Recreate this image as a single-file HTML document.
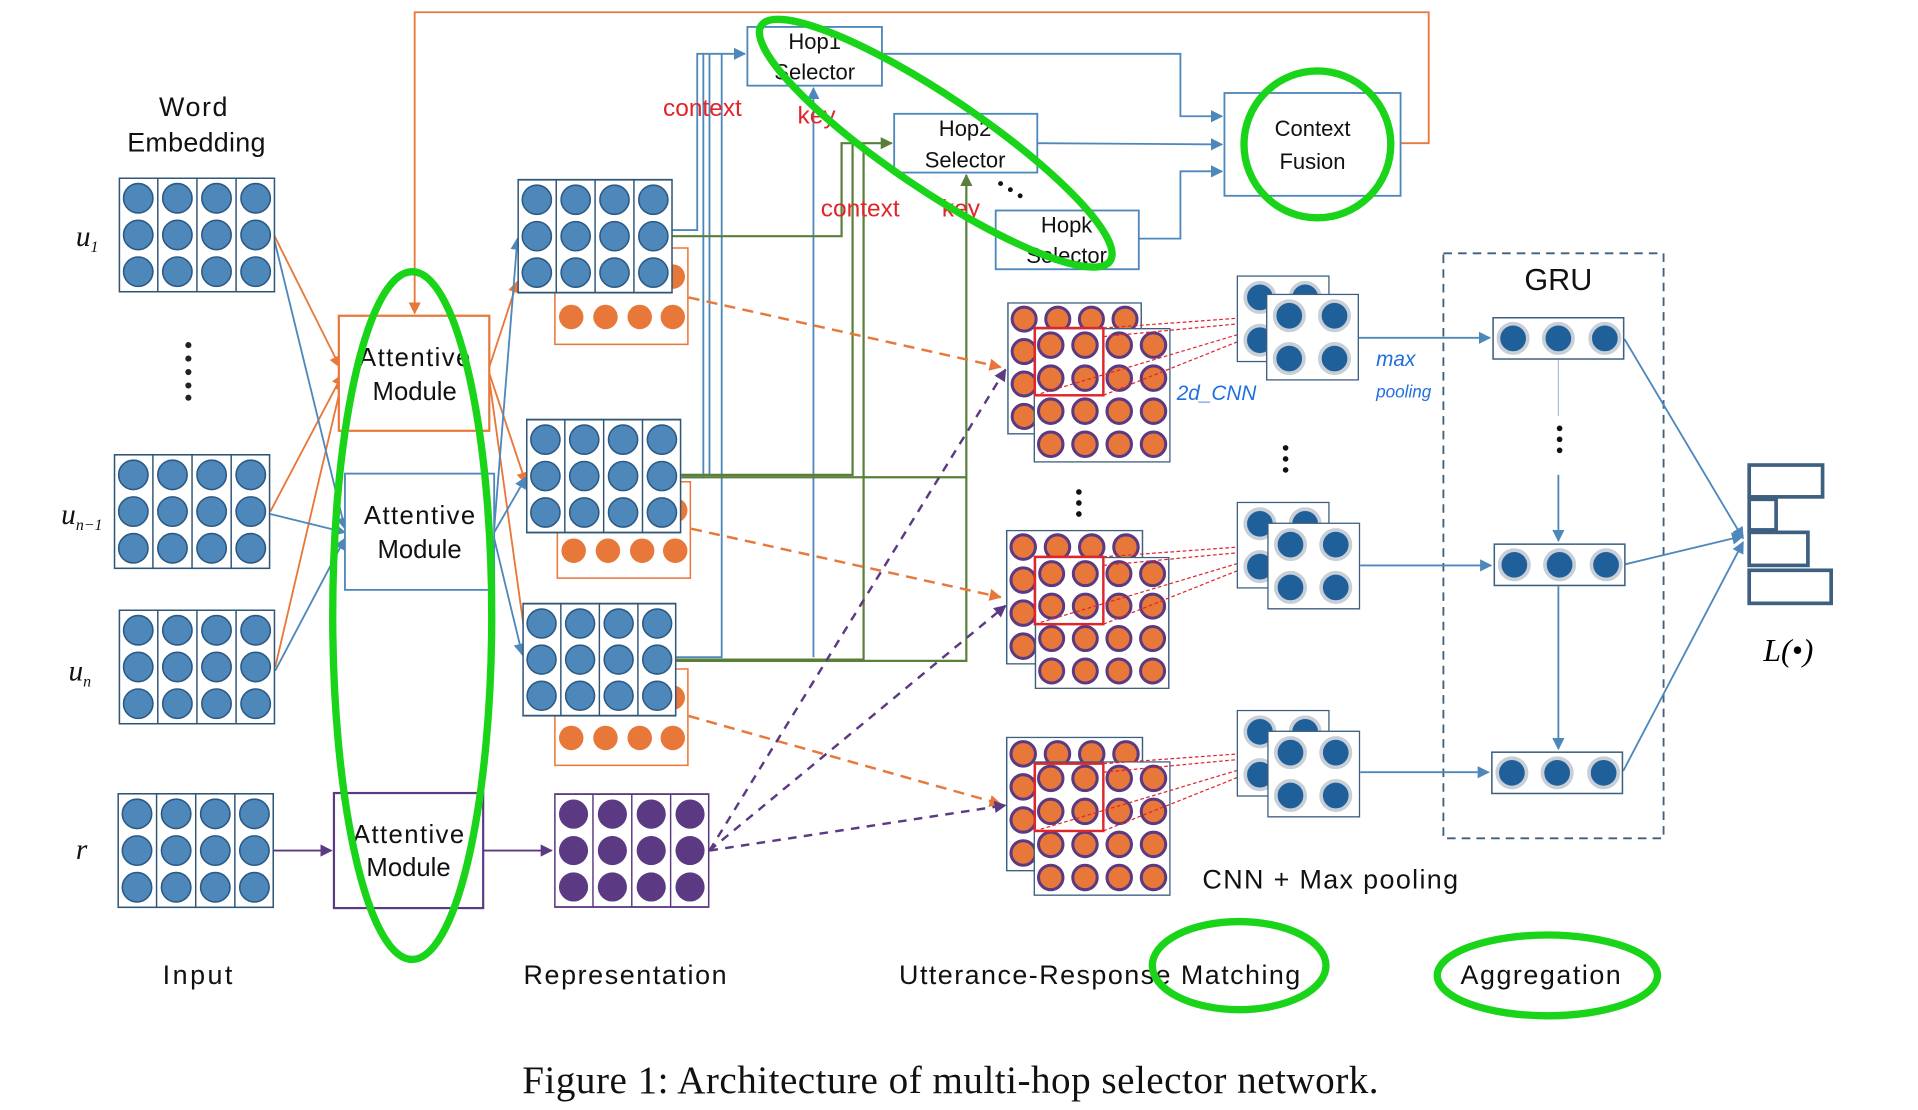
<!DOCTYPE html>
<html><head><meta charset="utf-8"><style>html,body{margin:0;padding:0;background:#fff;width:1918px;height:1110px;overflow:hidden}</style></head><body>
<svg width="1918" height="1110" viewBox="0 0 1568 907" preserveAspectRatio="none" xmlns="http://www.w3.org/2000/svg" font-family="Liberation Sans, sans-serif">
<defs>
<symbol id="mb" viewBox="0 0 128 94"><rect x="0.5" y="0.5" width="127" height="93" fill="#fff" stroke="#2f5577" stroke-width="1.5"/>
<g stroke="#2f5577" stroke-width="1.2"><line x1="32" y1="0" x2="32" y2="94"/><line x1="64" y1="0" x2="64" y2="94"/><line x1="96" y1="0" x2="96" y2="94"/></g>
<g fill="#4e88bb" stroke="#2c5a85" stroke-width="1.3">
<circle cx="16" cy="17" r="12"/><circle cx="48" cy="17" r="12"/><circle cx="80" cy="17" r="12"/><circle cx="112" cy="17" r="12"/>
<circle cx="16" cy="47" r="12"/><circle cx="48" cy="47" r="12"/><circle cx="80" cy="47" r="12"/><circle cx="112" cy="47" r="12"/>
<circle cx="16" cy="77" r="12"/><circle cx="48" cy="77" r="12"/><circle cx="80" cy="77" r="12"/><circle cx="112" cy="77" r="12"/></g></symbol>
<symbol id="mo" viewBox="0 0 110 80"><rect x="0.5" y="0.5" width="109" height="79" fill="#fff" stroke="#e8773a" stroke-width="1.5"/>
<g fill="#e8773a"><circle cx="14" cy="24" r="10"/><circle cx="42" cy="24" r="10"/><circle cx="70" cy="24" r="10"/><circle cx="97" cy="24" r="10"/>
<circle cx="14" cy="57" r="10"/><circle cx="42" cy="57" r="10"/><circle cx="70" cy="57" r="10"/><circle cx="97" cy="57" r="10"/></g></symbol>
<symbol id="mp" viewBox="0 0 128 94"><rect x="0.5" y="0.5" width="127" height="93" fill="#fff" stroke="#5a3a80" stroke-width="1.5"/>
<g stroke="#5a3a80" stroke-width="1.2"><line x1="32" y1="0" x2="32" y2="94"/><line x1="64" y1="0" x2="64" y2="94"/><line x1="96" y1="0" x2="96" y2="94"/></g>
<g fill="#5b3a83"><circle cx="16" cy="17" r="12"/><circle cx="48" cy="17" r="12"/><circle cx="80" cy="17" r="12"/><circle cx="112" cy="17" r="12"/>
<circle cx="16" cy="47" r="12"/><circle cx="48" cy="47" r="12"/><circle cx="80" cy="47" r="12"/><circle cx="112" cy="47" r="12"/>
<circle cx="16" cy="77" r="12"/><circle cx="48" cy="77" r="12"/><circle cx="80" cy="77" r="12"/><circle cx="112" cy="77" r="12"/></g></symbol>
<symbol id="mm" viewBox="0 0 112 110"><rect x="0.5" y="0.5" width="111" height="109" fill="#fff" stroke="#3d5f80" stroke-width="1.2"/>
<g fill="#e8773a" stroke="#5b3a83" stroke-width="2.5">
<circle cx="14" cy="14" r="10"/><circle cx="42" cy="14" r="10"/><circle cx="70" cy="14" r="10"/><circle cx="98" cy="14" r="10"/>
<circle cx="14" cy="41" r="10"/><circle cx="42" cy="41" r="10"/><circle cx="70" cy="41" r="10"/><circle cx="98" cy="41" r="10"/>
<circle cx="14" cy="68" r="10"/><circle cx="42" cy="68" r="10"/><circle cx="70" cy="68" r="10"/><circle cx="98" cy="68" r="10"/>
<circle cx="14" cy="95" r="10"/><circle cx="42" cy="95" r="10"/><circle cx="70" cy="95" r="10"/><circle cx="98" cy="95" r="10"/></g></symbol>
<symbol id="cn" viewBox="0 0 76 71"><rect x="0.5" y="0.5" width="75" height="70" fill="#fff" stroke="#3d5f80" stroke-width="1.2"/>
<g fill="#1f5f9a" stroke="#c8cfd6" stroke-width="3"><circle cx="19" cy="18" r="12"/><circle cx="56" cy="18" r="12"/><circle cx="19" cy="53" r="12"/><circle cx="56" cy="53" r="12"/></g></symbol>
<symbol id="gr" viewBox="0 0 108 35"><rect x="0.5" y="0.5" width="107" height="34" fill="#fff" stroke="#3d5f80" stroke-width="1.5"/>
<g fill="#1f5f9a" stroke="#c8cfd6" stroke-width="3"><circle cx="17" cy="17.5" r="12"/><circle cx="54" cy="17.5" r="12"/><circle cx="92" cy="17.5" r="12"/></g></symbol>
<marker id="ao" markerWidth="10" markerHeight="10" refX="9" refY="5" orient="auto" markerUnits="userSpaceOnUse"><path d="M0,0 L10,5 L0,10z" fill="#e8773a"/></marker>
<marker id="ab" markerWidth="10" markerHeight="10" refX="9" refY="5" orient="auto" markerUnits="userSpaceOnUse"><path d="M0,0 L10,5 L0,10z" fill="#4e88bb"/></marker>
<marker id="ag" markerWidth="10" markerHeight="10" refX="9" refY="5" orient="auto" markerUnits="userSpaceOnUse"><path d="M0,0 L10,5 L0,10z" fill="#5a7f3a"/></marker>
<marker id="ap" markerWidth="10" markerHeight="10" refX="9" refY="5" orient="auto" markerUnits="userSpaceOnUse"><path d="M0,0 L10,5 L0,10z" fill="#5b3a83"/></marker>
</defs>

<polyline points="1145,117 1168,117 1168,10 339,10 339,256" fill="none" stroke="#e8773a" stroke-width="1.5" marker-end="url(#ao)"/>

<g stroke="#e8773a" stroke-width="1.5" fill="none" marker-end="url(#ao)">
<line x1="224" y1="192" x2="278" y2="300"/><line x1="221" y1="418" x2="280" y2="306"/><line x1="225" y1="545" x2="280" y2="310"/>
<line x1="400" y1="300" x2="423" y2="230"/><line x1="400" y1="305" x2="430" y2="395"/><line x1="400" y1="310" x2="432" y2="540"/>
</g>
<g stroke="#4e88bb" stroke-width="1.5" fill="none" marker-end="url(#ab)">
<line x1="224" y1="195" x2="282" y2="432"/><line x1="221" y1="420" x2="282" y2="435"/><line x1="225" y1="548" x2="282" y2="440"/>
<line x1="404" y1="432" x2="423" y2="195"/><line x1="404" y1="435" x2="430" y2="390"/><line x1="404" y1="440" x2="427" y2="535"/>
</g>
<line x1="224" y1="695" x2="271" y2="695" stroke="#5b3a83" stroke-width="1.5" marker-end="url(#ap)"/>
<line x1="395" y1="695" x2="451" y2="695" stroke="#5b3a83" stroke-width="1.5" marker-end="url(#ap)"/>

<g stroke="#4e88bb" stroke-width="1.5" fill="none">
<polyline points="549,188 570,188 570,44 609,44" marker-end="url(#ab)"/>
<polyline points="557,390 575,390 575,44"/><polyline points="553,537 590,537 590,44"/>
<polyline points="557,388 580,388 580,44"/>
<line x1="665" y1="537" x2="665" y2="72" marker-end="url(#ab)"/>
<polyline points="721,44 965,44 965,95 999,95" marker-end="url(#ab)"/>
<line x1="848" y1="117" x2="999" y2="118" marker-end="url(#ab)"/>
<polyline points="931,195 965,195 965,140 999,140" marker-end="url(#ab)"/>
</g>
<g stroke="#5a7f3a" stroke-width="1.8" fill="none">
<polyline points="549,193 688,193 688,117 729,117" marker-end="url(#ag)"/>
<polyline points="557,388 697,388 697,117"/>
<polyline points="553,539 706,539 706,117"/>
<polyline points="557,390 790,390 790,143" marker-end="url(#ag)"/>
<polyline points="553,540 790,540 790,390"/>
</g>

<g stroke="#e8773a" stroke-width="2" stroke-dasharray="9,6" fill="none" marker-end="url(#ao)">
<line x1="563" y1="243" x2="818" y2="300"/><line x1="565" y1="432" x2="818" y2="488"/><line x1="563" y1="585" x2="818" y2="657"/>
</g>
<g stroke="#5b3a83" stroke-width="2" stroke-dasharray="7,6" fill="none" marker-end="url(#ap)">
<line x1="580" y1="695" x2="822" y2="302"/><line x1="580" y1="695" x2="822" y2="495"/><line x1="580" y1="695" x2="822" y2="658"/>
</g>

<use href="#mb" x="97" y="145" width="128" height="94"/>
<use href="#mb" x="93" y="371" width="128" height="94"/>
<use href="#mb" x="97" y="498" width="128" height="94"/>
<use href="#mb" x="96" y="648" width="128" height="94"/>
<g fill="#222"><circle cx="154" cy="282" r="2.5"/><circle cx="154" cy="293" r="2.5"/><circle cx="154" cy="304" r="2.5"/><circle cx="154" cy="315" r="2.5"/><circle cx="154" cy="325" r="2.5"/></g>

<rect x="277" y="258" width="123" height="94" fill="#fff" stroke="#e8773a" stroke-width="1.8"/>
<rect x="282" y="387" width="122" height="95" fill="#fff" stroke="#4e88bb" stroke-width="1.5"/>
<rect x="273" y="648" width="122" height="94" fill="#fff" stroke="#5b3a83" stroke-width="1.8"/>
<g font-size="21" text-anchor="middle" fill="#111">
<text x="339" y="299" textLength="91">Attentive</text><text x="339" y="327">Module</text>
<text x="343" y="428" textLength="91">Attentive</text><text x="343" y="456">Module</text>
<text x="334" y="689" textLength="91">Attentive</text><text x="334" y="716">Module</text>
</g>

<use href="#mo" x="453" y="202" width="110" height="80"/>
<use href="#mb" x="423" y="146" width="127" height="94"/>
<use href="#mo" x="455" y="393" width="110" height="80"/>
<use href="#mb" x="430" y="342" width="127" height="94"/>
<use href="#mo" x="453" y="546" width="110" height="80"/>
<use href="#mb" x="427" y="492" width="126" height="94"/>
<use href="#mp" x="453" y="648" width="127" height="94"/>

<rect x="611" y="22" width="110" height="48" fill="#fff" stroke="#4e88bb" stroke-width="1.5"/>
<rect x="731" y="93" width="117" height="48" fill="#fff" stroke="#4e88bb" stroke-width="1.5"/>
<rect x="814" y="172" width="117" height="48" fill="#fff" stroke="#4e88bb" stroke-width="1.5"/>
<rect x="1001" y="76" width="144" height="84" fill="#fff" stroke="#4e88bb" stroke-width="1.5"/>
<g font-size="18" text-anchor="middle" fill="#111">
<text x="666" y="40">Hop1</text><text x="666" y="65">Selector</text>
<text x="789" y="111">Hop2</text><text x="789" y="137">Selector</text>
<text x="872" y="190">Hopk</text><text x="872" y="215">Selector</text>
<text x="1073" y="111">Context</text><text x="1073" y="138">Fusion</text>
</g>
<g font-size="20" fill="#e0262a"><text x="542" y="95">context</text><text x="652" y="101">key</text><text x="671" y="177">context</text><text x="770" y="177">key</text></g>
<g fill="#111"><circle cx="818" cy="150" r="2"/><circle cx="826" cy="155" r="2"/><circle cx="834" cy="160" r="2"/></g>

<use href="#mm" x="822" y="247" width="113" height="108"/>
<use href="#mm" x="845" y="268" width="112" height="110"/>
<use href="#mm" x="822" y="433" width="113" height="110"/>
<use href="#mm" x="845" y="455" width="112" height="108"/>
<use href="#mm" x="822" y="602" width="113" height="110"/>
<use href="#mm" x="845" y="622" width="112" height="110"/>
<g fill="none" stroke="#e0262a" stroke-width="2"><rect x="846" y="268" width="56" height="55"/><rect x="846" y="455" width="56" height="55"/><rect x="846" y="624" width="56" height="55"/></g>
<g stroke="#e0262a" stroke-width="1" stroke-dasharray="3,2">
<line x1="902" y1="268" x2="1040" y2="258"/><line x1="902" y1="275" x2="1040" y2="262"/><line x1="902" y1="323" x2="1040" y2="268"/><line x1="846" y1="323" x2="1040" y2="265"/>
<line x1="902" y1="455" x2="1040" y2="445"/><line x1="902" y1="462" x2="1040" y2="449"/><line x1="902" y1="510" x2="1040" y2="455"/><line x1="846" y1="510" x2="1040" y2="452"/>
<line x1="902" y1="624" x2="1040" y2="614"/><line x1="902" y1="631" x2="1040" y2="618"/><line x1="902" y1="679" x2="1040" y2="624"/><line x1="846" y1="679" x2="1040" y2="621"/>
</g>
<g fill="#111"><circle cx="882" cy="402" r="2.3"/><circle cx="882" cy="411" r="2.3"/><circle cx="882" cy="420" r="2.3"/>
<circle cx="1051" cy="366" r="2.3"/><circle cx="1051" cy="375" r="2.3"/><circle cx="1051" cy="384" r="2.3"/>
<circle cx="1275" cy="350" r="2.3"/><circle cx="1275" cy="359" r="2.3"/><circle cx="1275" cy="368" r="2.3"/></g>

<use href="#cn" x="1011" y="225" width="76" height="71"/>
<use href="#cn" x="1035" y="240" width="76" height="71"/>
<use href="#cn" x="1011" y="410" width="76" height="71"/>
<use href="#cn" x="1036" y="427" width="76" height="71"/>
<use href="#cn" x="1011" y="580" width="76" height="71"/>
<use href="#cn" x="1036" y="597" width="76" height="71"/>
<g font-family="Liberation Sans, sans-serif" font-style="italic" fill="#1f6fe0" font-size="17"><text x="962" y="327">2d_CNN</text><text x="1125" y="299">max</text><text x="1125" y="325" font-size="14">pooling</text></g>

<rect x="1180" y="207" width="180" height="478" fill="none" stroke="#3d5f80" stroke-width="1.5" stroke-dasharray="7,5"/>
<text x="1274" y="237" font-size="25" text-anchor="middle" fill="#111">GRU</text>
<g stroke="#4e88bb" stroke-width="1.5" fill="none" marker-end="url(#ab)">
<line x1="1111" y1="276" x2="1218" y2="276"/><line x1="1112" y1="462" x2="1219" y2="462"/><line x1="1112" y1="631" x2="1217" y2="631"/>
<line x1="1274" y1="388" x2="1274" y2="442"/><line x1="1274" y1="479" x2="1274" y2="612"/>
<line x1="1328" y1="277" x2="1425" y2="440"/><line x1="1329" y1="461" x2="1425" y2="438"/><line x1="1327" y1="630" x2="1425" y2="443"/>
</g>
<line x1="1274" y1="294" x2="1274" y2="340" stroke="#aac3dd" stroke-width="1"/>
<use href="#gr" x="1220" y="259" width="108" height="35"/>
<use href="#gr" x="1221" y="444" width="108" height="35"/>
<use href="#gr" x="1219" y="614" width="108" height="35"/>

<g fill="#fff" stroke="#3d5f80" stroke-width="3"><rect x="1430" y="380" width="60" height="26"/><rect x="1430" y="408" width="22" height="25"/><rect x="1430" y="435" width="48" height="27"/><rect x="1430" y="466" width="67" height="27"/></g>
<text x="1462" y="540" font-family="Liberation Serif, serif" font-style="italic" font-size="26" text-anchor="middle">L(•)</text>

<g font-family="Liberation Serif, serif" font-style="italic" font-size="24" fill="#111">
<text x="62" y="201">u<tspan font-size="13" dy="5">1</tspan></text>
<text x="50" y="428">u<tspan font-size="13" dy="5">n−1</tspan></text>
<text x="56" y="556">u<tspan font-size="13" dy="5">n</tspan></text>
<text x="62" y="702">r</text></g>
<g font-size="22" fill="#111">
<text x="130" y="95" textLength="56">Word</text><text x="104" y="124" textLength="113">Embedding</text>
<text x="133" y="804" textLength="57">Input</text><text x="428" y="804" textLength="166">Representation</text>
<text x="735" y="804" textLength="328">Utterance-Response Matching</text><text x="1194" y="804" textLength="131">Aggregation</text>
<text x="983" y="726" textLength="209">CNN + Max pooling</text></g>
<text x="427" y="893" font-family="Liberation Serif, serif" font-size="32" textLength="700" fill="#111">Figure 1: Architecture of multi-hop selector network.</text>

<g fill="none" stroke="#19d419" stroke-width="6">
<ellipse cx="337" cy="503" rx="65" ry="281"/>
<ellipse cx="765" cy="117" rx="172" ry="38" transform="rotate(34 765 117)"/>
<ellipse cx="1077" cy="118" rx="60" ry="60"/>
<ellipse cx="1013" cy="789" rx="71" ry="36"/>
<ellipse cx="1265" cy="797" rx="90" ry="33"/>
</g>
</svg>
</body></html>
